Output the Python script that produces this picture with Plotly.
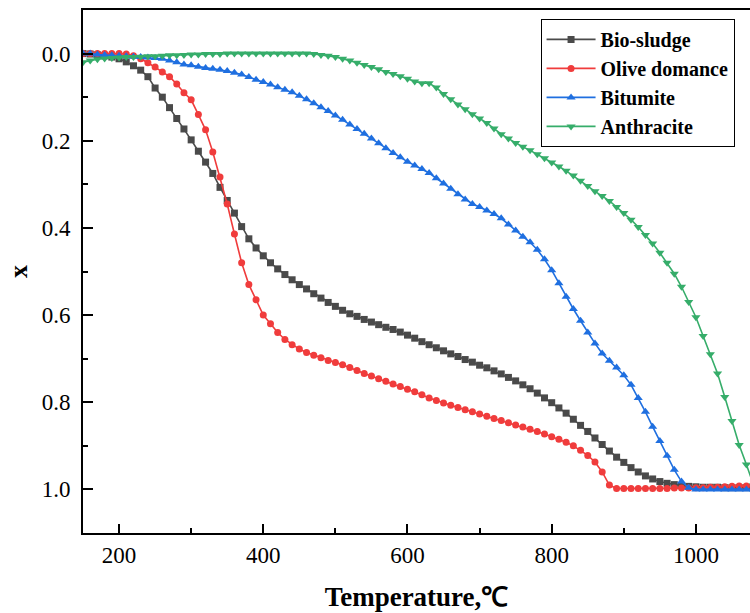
import plotly.graph_objects as go

temperature = [150, 160, 170, 180, 190, 200, 210, 220, 230, 240,
               250, 260, 270, 280, 290, 300, 310, 320, 330, 340,
               350, 360, 370, 380, 390, 400, 410, 420, 430, 440,
               450, 460, 470, 480, 490, 500, 510, 520, 530, 540,
               550, 560, 570, 580, 590, 600, 610, 620, 630, 640,
               650, 660, 670, 680, 690, 700, 710, 720, 730, 740,
               750, 760, 770, 780, 790, 800, 810, 820, 830, 840,
               850, 860, 870, 880, 890, 900, 910, 920, 930, 940,
               950, 960, 970, 980, 990, 1000, 1010, 1020, 1030, 1040,
               1050, 1060, 1070, 1080]

bio_sludge = [0.000, 0.001, 0.003, 0.005, 0.008, 0.012, 0.019, 0.028, 0.038, 0.053,
              0.079, 0.100, 0.124, 0.149, 0.173, 0.198, 0.224, 0.249, 0.275, 0.307,
              0.337, 0.366, 0.397, 0.425, 0.446, 0.464, 0.480, 0.494, 0.507, 0.519,
              0.530, 0.540, 0.551, 0.561, 0.571, 0.580, 0.589, 0.597, 0.603, 0.610,
              0.616, 0.622, 0.628, 0.633, 0.639, 0.646, 0.653, 0.661, 0.668, 0.675,
              0.682, 0.689, 0.695, 0.702, 0.708, 0.715, 0.721, 0.728, 0.735, 0.743,
              0.751, 0.760, 0.769, 0.779, 0.790, 0.801, 0.813, 0.825, 0.839, 0.853,
              0.867, 0.882, 0.897, 0.912, 0.926, 0.938, 0.950, 0.960, 0.969, 0.976,
              0.982, 0.986, 0.989, 0.991, 0.993, 0.994, 0.995, 0.995, 0.995, 0.996,
              0.996, 0.996, 0.996, 0.996]

olive_domance = [0.000, 0.000, 0.000, 0.000, 0.000, 0.000, 0.001, 0.005, 0.012, 0.021,
                 0.031, 0.042, 0.053, 0.070, 0.090, 0.106, 0.140, 0.175, 0.226, 0.283,
                 0.345, 0.414, 0.480, 0.530, 0.565, 0.600, 0.620, 0.640, 0.656, 0.668,
                 0.678, 0.686, 0.692, 0.698, 0.704, 0.709, 0.714, 0.720, 0.727, 0.734,
                 0.740, 0.746, 0.752, 0.758, 0.764, 0.770, 0.776, 0.783, 0.790, 0.796,
                 0.802, 0.807, 0.812, 0.817, 0.822, 0.827, 0.832, 0.837, 0.842, 0.847,
                 0.852, 0.857, 0.862, 0.867, 0.873, 0.879, 0.885, 0.892, 0.900, 0.910,
                 0.922, 0.937, 0.960, 0.990, 0.998, 0.998, 0.998, 0.998, 0.998, 0.998,
                 0.998, 0.998, 0.997, 0.997, 0.997, 0.996, 0.996, 0.995, 0.995, 0.994,
                 0.993, 0.992, 0.992, 0.991]

bitumite = [0.000, 0.000, 0.002, 0.003, 0.004, 0.005, 0.006, 0.007, 0.008, 0.009,
            0.010, 0.012, 0.016, 0.020, 0.025, 0.027, 0.030, 0.033, 0.035, 0.037,
            0.040, 0.044, 0.048, 0.054, 0.060, 0.065, 0.071, 0.077, 0.083, 0.089,
            0.097, 0.105, 0.114, 0.123, 0.132, 0.142, 0.152, 0.163, 0.173, 0.184,
            0.195, 0.206, 0.217, 0.228, 0.238, 0.248, 0.257, 0.265, 0.274, 0.286,
            0.298, 0.310, 0.323, 0.335, 0.345, 0.352, 0.360, 0.368, 0.378, 0.392,
            0.406, 0.420, 0.433, 0.450, 0.472, 0.497, 0.527, 0.558, 0.586, 0.613,
            0.640, 0.665, 0.688, 0.705, 0.720, 0.738, 0.760, 0.790, 0.822, 0.856,
            0.889, 0.923, 0.955, 0.982, 0.996, 1.000, 1.000, 1.000, 1.000, 1.000,
            1.000, 1.000, 1.000, 1.000]

anthracite = [0.020, 0.016, 0.013, 0.011, 0.010, 0.009, 0.008, 0.008, 0.007, 0.006,
              0.006, 0.005, 0.004, 0.004, 0.003, 0.002, 0.002, 0.001, 0.001, 0.001,
              0.000, 0.000, 0.000, 0.000, 0.000, 0.000, 0.000, 0.000, 0.000, 0.000,
              0.000, 0.000, 0.001, 0.003, 0.005, 0.008, 0.012, 0.016, 0.021, 0.026,
              0.031, 0.036, 0.042, 0.047, 0.052, 0.058, 0.064, 0.068, 0.068, 0.078,
              0.093, 0.105, 0.117, 0.128, 0.139, 0.149, 0.159, 0.172, 0.185, 0.195,
              0.205, 0.214, 0.222, 0.231, 0.240, 0.250, 0.259, 0.269, 0.280, 0.292,
              0.304, 0.316, 0.327, 0.338, 0.352, 0.366, 0.381, 0.398, 0.416, 0.436,
              0.457, 0.480, 0.505, 0.535, 0.570, 0.605, 0.648, 0.690, 0.734, 0.788,
              0.843, 0.898, 0.943, 0.990]

series_names = ["Bio-sludge", "Olive domance", "Bitumite", "Anthracite"]
series_colors = ["#4a4a4a", "#f03c3c", "#1f6fe0", "#36ad6a"]
series_symbols = ["square", "circle", "triangle-up", "triangle-down"]
series_sizes = [7, 7, 8, 8]
series_values = [bio_sludge, olive_domance, bitumite, anthracite]

x_tick_vals = [200, 400, 600, 800, 1000]
y_tick_vals = [0.0, 0.2, 0.4, 0.6, 0.8, 1.0]
y_tick_text = ["0.0", "0.2", "0.4", "0.6", "0.8", "1.0"]

SERIF = "Liberation Serif"

fig = go.Figure()
for name, vals, col, sym, sz in zip(series_names, series_values, series_colors,
                                    series_symbols, series_sizes):
    fig.add_trace(go.Scatter(
        x=temperature, y=vals, name=name, mode="lines+markers",
        line=dict(color=col, width=1.6),
        marker=dict(symbol=sym, size=sz, color=col, line=dict(width=0)),
    ))

fig.update_layout(
    width=750, height=613,
    margin=dict(l=83, r=0, t=10, b=80),
    paper_bgcolor="white", plot_bgcolor="white",
    font=dict(family=SERIF, size=23, color="black"),
    showlegend=True,
    legend=dict(
        x=0.686, y=0.983, xanchor="left", yanchor="top",
        bgcolor="white", bordercolor="black", borderwidth=1,
        font=dict(family=SERIF, size=20, color="black", weight="bold"),
        itemwidth=49, tracegroupgap=0,
    ),
    xaxis=dict(
        range=[150, 1075], tickvals=x_tick_vals,
        ticks="inside", ticklen=9, tickwidth=2, tickcolor="black",
        showline=True, linewidth=2, linecolor="black", mirror=True,
        showgrid=False, zeroline=False, ticklabelstandoff=0,
        tickfont=dict(family=SERIF, size=23, color="black"),
        minor=dict(dtick=100, tick0=100, ticks="inside", ticklen=5, tickwidth=2,
                   tickcolor="black", showgrid=False),
        title=dict(text="Temperature,℃", standoff=21,
                   font=dict(family=SERIF, size=27, color="black", weight="bold")),
    ),
    yaxis=dict(
        range=[1.1, -0.1], tickvals=y_tick_vals, ticktext=y_tick_text,
        ticks="inside", ticklen=10, tickwidth=2, tickcolor="black",
        showline=True, linewidth=2, linecolor="black", mirror=False,
        showgrid=False, zeroline=False, ticklabelstandoff=6,
        tickfont=dict(family=SERIF, size=23, color="black"),
        minor=dict(dtick=0.2, tick0=0.1, ticks="inside", ticklen=5, tickwidth=2,
                   tickcolor="black", showgrid=False),
        title=dict(text="x", standoff=7,
                   font=dict(family=SERIF, size=26, color="black", weight="bold")),
    ),
)

fig.write_html("out.html", config={"displayModeBar": False},
               post_script="document.body.style.margin='0';")
